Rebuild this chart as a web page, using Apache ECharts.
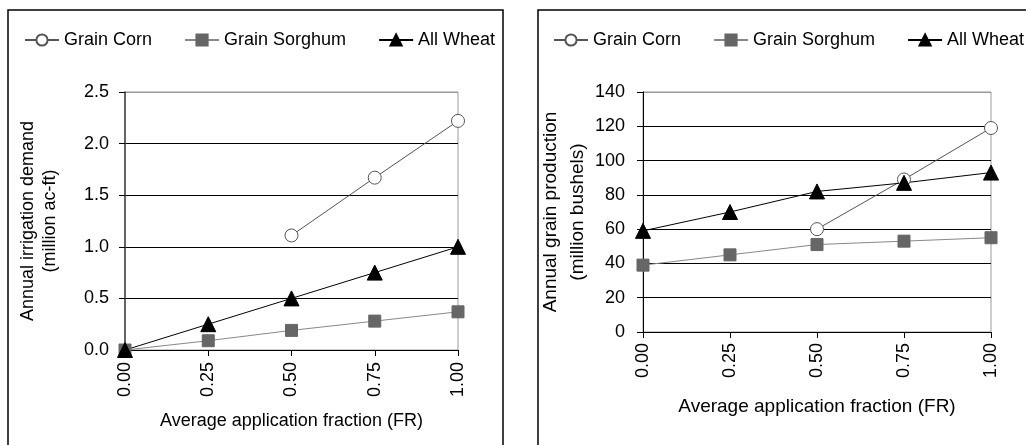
<!DOCTYPE html>
<html>
<head>
<meta charset="utf-8">
<script src="https://cdn.jsdelivr.net/npm/echarts@6/dist/echarts.min.js"></script>
<style>
  html, body { margin: 0; padding: 0; background: #fff; }
  #chart { width: 1026px; height: 445px; }
</style>
</head>
<body>
<div id="chart"></div>
<script>
var fractions = ['0.00', '0.25', '0.50', '0.75', '1.00'];
var seriesNames = ['Grain Corn', 'Grain Sorghum', 'All Wheat'];

// annual irrigation demand (million ac-ft)
var demandCorn = [null, null, 1.11, 1.67, 2.22];
var demandSorghum = [0, 0.09, 0.19, 0.28, 0.37];
var demandWheat = [0, 0.25, 0.5, 0.75, 1.0];

// annual grain production (million bushels)
var prodCorn = [null, null, 60, 89, 119];
var prodSorghum = [39, 45, 51, 53, 55];
var prodWheat = [59, 70, 82, 87, 93];

var font = 'Liberation Sans, Arial, sans-serif';

(function () {
  var dom = document.getElementById('chart');
  var myChart = echarts.init(dom, null, { renderer: 'canvas' });

  var styles = {
    'Grain Corn': { symbol: 'circle', size: 13, fill: '#fff', border: '#555', line: '#555' },
    'Grain Sorghum': { symbol: 'rect', size: 12, fill: '#666', border: '#666', line: '#888' },
    'All Wheat': { symbol: 'triangle', size: 15, fill: '#000', border: '#000', line: '#000' }
  };

  function makeSeries(name, data, idx) {
    var s = styles[name];
    return {
      name: name,
      type: 'line',
      xAxisIndex: idx,
      yAxisIndex: idx,
      data: data,
      symbol: s.symbol,
      symbolSize: s.size,
      showAllSymbol: true,
      animation: false,
      lineStyle: { color: s.line, width: 1 },
      itemStyle: { color: s.fill, borderColor: s.border, borderWidth: 1 }
    };
  }

  function xAxis(idx, gap, margin) {
    return {
      type: 'category',
      gridIndex: idx,
      data: fractions,
      boundaryGap: false,
      name: 'Average application fraction (FR)',
      nameLocation: 'middle',
      nameGap: gap,
      nameTextStyle: { fontFamily: font, fontSize: idx === 0 ? 18 : 19, color: '#000' },
      axisLine: { lineStyle: { color: '#000', width: 1 } },
      axisTick: { show: true, inside: false, length: 6, alignWithLabel: true, lineStyle: { color: '#000' } },
      axisLabel: { rotate: 90, margin: margin, fontFamily: font, fontSize: 18, color: '#000' },
      splitLine: { show: false }
    };
  }

  var legendBase = {
    itemWidth: 34,
    itemHeight: 14,
    itemGap: 32,
    padding: 0,
    top: 31,
    width: 700,
    orient: 'horizontal',
    textStyle: { fontFamily: font, fontSize: 18, color: '#000' },
    data: seriesNames,
    selectedMode: false
  };

  myChart.setOption({
    backgroundColor: '#fff',
    animation: false,
    graphic: [
      { type: 'rect', shape: { x: 8, y: 10, width: 495, height: 460 }, style: { fill: 'none', stroke: '#000', lineWidth: 1.5 }, silent: true },
      { type: 'rect', shape: { x: 538, y: 10, width: 520, height: 460 }, style: { fill: 'none', stroke: '#000', lineWidth: 1.5 }, silent: true }
    ],
    legend: [
      Object.assign({}, legendBase, { left: 24 }),
      Object.assign({}, legendBase, { left: 553 })
    ],
    grid: [
      { left: 125, right: 568, top: 92, bottom: 95, show: true, borderColor: '#999', borderWidth: 1, backgroundColor: 'transparent' },
      { left: 643, right: 35, top: 92, bottom: 113, show: true, borderColor: '#999', borderWidth: 1, backgroundColor: 'transparent' }
    ],
    xAxis: [xAxis(0, 62, 12), xAxis(1, 65, 11)],
    yAxis: [
      {
        type: 'value',
        gridIndex: 0,
        min: 0,
        max: 2.5,
        interval: 0.5,
        name: 'Annual irrigation demand\n(million ac-ft)',
        nameLocation: 'middle',
        nameGap: 64,
        nameTextStyle: { fontFamily: font, fontSize: 18, color: '#000', lineHeight: 22 },
        axisLine: { show: true, lineStyle: { color: '#444', width: 1.5 } },
        axisTick: { show: true, length: 6, lineStyle: { color: '#000' } },
        axisLabel: { margin: 16, fontFamily: font, fontSize: 18, color: '#000', formatter: function (v) { return v.toFixed(1); } },
        splitLine: { show: true, lineStyle: { color: ['#000', '#000', '#000', '#000', '#000', '#999'], width: 1 } }
      },
      {
        type: 'value',
        gridIndex: 1,
        min: 0,
        max: 140,
        interval: 20,
        name: 'Annual grain production\n(million bushels)',
        nameLocation: 'middle',
        nameGap: 50,
        nameTextStyle: { fontFamily: font, fontSize: 19, color: '#000', lineHeight: 27 },
        axisLine: { show: true, lineStyle: { color: '#000', width: 1 } },
        axisTick: { show: true, length: 6, lineStyle: { color: '#000' } },
        axisLabel: { margin: 18, fontFamily: font, fontSize: 18, color: '#000' },
        splitLine: { show: true, lineStyle: { color: ['#000', '#000', '#000', '#000', '#000', '#000', '#000', '#999'], width: 1 } }
      }
    ],
    series: [
      makeSeries('Grain Corn', demandCorn, 0),
      makeSeries('Grain Sorghum', demandSorghum, 0),
      makeSeries('All Wheat', demandWheat, 0),
      makeSeries('Grain Corn', prodCorn, 1),
      makeSeries('Grain Sorghum', prodSorghum, 1),
      makeSeries('All Wheat', prodWheat, 1)
    ]
  });
})();
</script>
</body>
</html>
